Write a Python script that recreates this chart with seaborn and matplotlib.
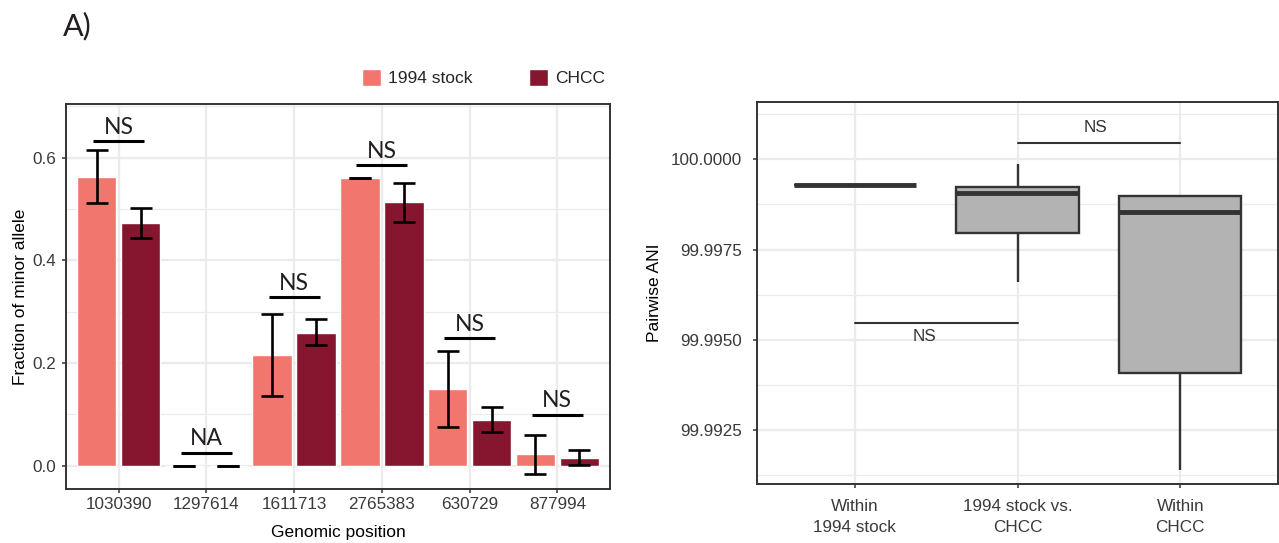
import numpy as np
import pandas as pd
import matplotlib
matplotlib.use("Agg")
import matplotlib.pyplot as plt
import seaborn as sns
from matplotlib.ticker import FixedLocator, FuncFormatter

# ---------------- data ----------------
positions = ["1030390", "1297614", "1611713", "2765383", "630729", "877994"]
groups = ["1994 stock", "CHCC"]
stock_mean = [0.562, 0.0, 0.216, 0.560, 0.149, 0.022]
stock_low = [0.511, 0.0, 0.136, 0.560, 0.075, -0.016]
stock_high = [0.615, 0.0, 0.296, 0.560, 0.224, 0.060]
chcc_mean = [0.472, 0.0, 0.258, 0.513, 0.089, 0.015]
chcc_low = [0.444, 0.0, 0.235, 0.474, 0.065, 0.002]
chcc_high = [0.502, 0.0, 0.285, 0.551, 0.114, 0.031]
sig_labels = ["NS", "NA", "NS", "NS", "NS", "NS"]
bracket_y = [0.632, 0.025, 0.328, 0.585, 0.248, 0.099]

comparisons = ["Within\n1994 stock", "1994 stock vs.\nCHCC", "Within\nCHCC"]
ani_within_stock = [99.99928, 99.99928, 99.99928]
ani_between = [99.99660, 99.99795, 99.99906, 99.99924, 99.99987]
ani_within_chcc = [99.99140, 99.99408, 99.99854, 99.99898, 99.99898]
ani_test_labels = ["NS", "NS"]
ani_test_from = [1, 0]
ani_test_to = [2, 1]
ani_test_y = [100.00045, 99.99545]
ani_text_x = [1.48, 0.43]
ani_text_y = [100.00089, 99.99509]

colors = ["#F1766E", "#86152F"]

# ---------------- style ----------------
sns.set_style("white")
plt.rcParams["font.family"] = ["Liberation Sans", "DejaVu Sans"]

W, H = 1279, 543
fig = plt.figure(figsize=(W / 100, H / 100), dpi=100)
ax1 = fig.add_axes([66 / W, 1 - 489 / H, 544 / W, 385 / H])
ax2 = fig.add_axes([757 / W, 1 - 484 / H, 521 / W, 382 / H])

grid_c = "#EBEBEB"
border_c = "#333333"
tick_lab_c = "#3A3A3A"

# ---------------- left panel ----------------
df = pd.DataFrame({
    "position": positions * 2,
    "group": [groups[0]] * len(positions) + [groups[1]] * len(positions),
    "fraction": stock_mean + chcc_mean,
})
sns.barplot(data=df, x="position", y="fraction", hue="group", order=positions,
            hue_order=groups, palette=colors, saturation=1, width=1.0, gap=0.1,
            errorbar=None, ax=ax1, zorder=2)

for cont, m, lo, hi in zip(ax1.containers, [stock_mean, chcc_mean],
                           [stock_low, chcc_low], [stock_high, chcc_high]):
    xs = [p.get_x() + p.get_width() / 2 for p in cont]
    m = np.array(m); lo = np.array(lo); hi = np.array(hi)
    ax1.errorbar(xs, m, yerr=[m - lo, hi - m], fmt="none", ecolor="black",
                 elinewidth=1.9, capsize=7.9, capthick=1.9, zorder=3)

for i, (lab, y) in enumerate(zip(sig_labels, bracket_y)):
    ax1.plot([i - 0.29, i + 0.29], [y, y], color="black", lw=2.2,
             solid_capstyle="butt", zorder=3)
    ax1.text(i, y + 0.015, lab, ha="center", va="baseline", fontsize=16.5,
             family=["Lato", "DejaVu Sans"], color="#231F20", zorder=4)

ax1.set_xlim(-0.6, len(positions) - 0.4)
ax1.set_ylim(-0.0454, 0.7047)
ax1.yaxis.set_major_locator(FixedLocator([0.0, 0.2, 0.4, 0.6]))
ax1.yaxis.set_minor_locator(FixedLocator([0.1, 0.3, 0.5, 0.7]))
ax1.yaxis.set_major_formatter(FuncFormatter(lambda v, p: f"{v:.1f}"))
ax1.set_xlabel("Genomic position", fontsize=12.5, color="black")
ax1.set_ylabel("Fraction of minor allele", fontsize=12.5, color="black")
ax1.xaxis.set_label_coords(0.5, -0.093)
ax1.yaxis.set_label_coords(-0.07, 0.5)

sns.move_legend(ax1, "center", bbox_to_anchor=(0.7675, 1.068), ncol=2,
                frameon=False, title=None, handlelength=1.09, handleheight=1.09,
                handletextpad=0.4, columnspacing=3.3, fontsize=12.5,
                borderpad=0, borderaxespad=0)

# ---------------- right panel ----------------
df2 = pd.DataFrame({
    "comparison": [comparisons[0]] * len(ani_within_stock)
    + [comparisons[1]] * len(ani_between)
    + [comparisons[2]] * len(ani_within_chcc),
    "ani": ani_within_stock + ani_between + ani_within_chcc,
})
sns.boxplot(data=df2, x="comparison", y="ani", order=comparisons,
            color="#B3B3B3", saturation=1, linecolor="#333333", linewidth=1.7,
            width=0.75, showcaps=False, fliersize=0,
            medianprops=dict(color="#333333", linewidth=3.5,
                             solid_capstyle="butt"), ax=ax2, zorder=2)

for lab, a, b, y, tx, ty in zip(ani_test_labels, ani_test_from, ani_test_to,
                                ani_test_y, ani_text_x, ani_text_y):
    ax2.plot([a, b], [y, y], color="#333333", lw=1.5, zorder=3)
    ax2.text(tx, ty, lab, ha="center", va="center", fontsize=12.3,
             color="#333333", zorder=4)

ax2.set_xlim(-0.6, 2.6)
ax2.set_ylim(99.9910, 100.00159)
ax2.yaxis.set_major_locator(FixedLocator([99.9925, 99.9950, 99.9975, 100.0]))
ax2.yaxis.set_minor_locator(FixedLocator([99.99125, 99.99375, 99.99625,
                                          99.99875, 100.00125]))
ax2.yaxis.set_major_formatter(FuncFormatter(lambda v, p: f"{v:.4f}"))
ax2.set_xlabel("")
ax2.set_ylabel("Pairwise ANI", fontsize=12.5, color="black")
ax2.yaxis.set_label_coords(-0.182, 0.5)

# ---------------- common styling ----------------
for ax, pad in ((ax1, 4), (ax2, 8)):
    ax.set_axisbelow(True)
    ax.grid(which="major", color=grid_c, lw=1.6, zorder=0)
    ax.grid(which="minor", axis="y", color=grid_c, lw=0.9, zorder=0)
    for s in ax.spines.values():
        s.set_visible(True)
        s.set_color(border_c)
        s.set_linewidth(1.4)
    ax.tick_params(axis="both", which="major", length=2.9, width=1.1,
                   color=border_c, labelsize=12.3, labelcolor=tick_lab_c,
                   bottom=True, left=True)
    ax.tick_params(axis="y", which="major", pad=pad)
    ax.tick_params(which="minor", length=0)
ax1.tick_params(axis="x", which="major", pad=3)
ax2.tick_params(axis="x", which="major", pad=8)
for t in ax2.get_xticklabels():
    t.set_linespacing(1.45)

fig.text(63 / W, 1 - 35 / H, "A)", fontsize=22, family=["Lato", "DejaVu Sans"],
         color="#231F20", ha="left", va="baseline")

fig.savefig("out.png", dpi=100)
